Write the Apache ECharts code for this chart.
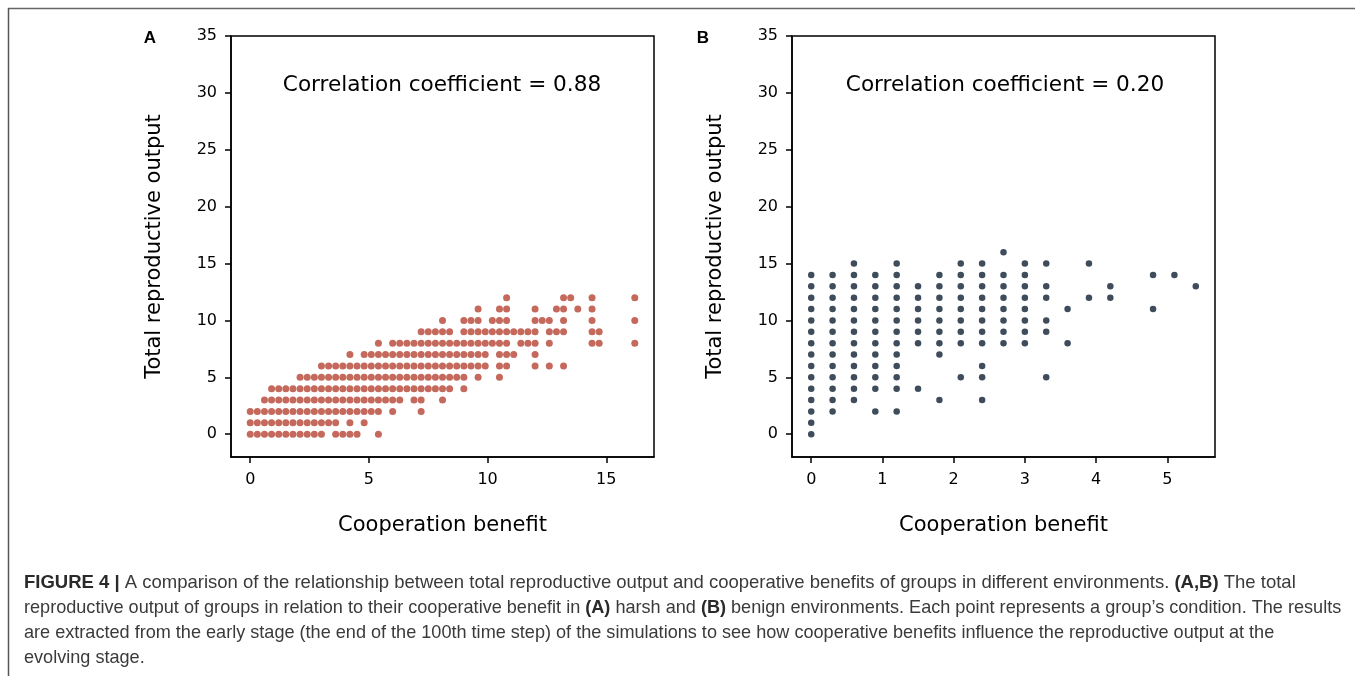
<!DOCTYPE html>
<html>
<head>
<meta charset="utf-8">
<script src="https://cdn.jsdelivr.net/npm/echarts@6/dist/echarts.min.js"></script>
<style>
html,body{margin:0;padding:0;background:#fff;}
#c{width:1355px;height:676px;}
</style>
</head>
<body>
<div id="c"></div>
<script>
// ---------- DATA ----------
// Panel A (harsh): y levels and the cooperation-benefit x values present at each level
const harshYLevels = [0,1,2,3,4,5,6,7,8,9,10,11,12];
const harshRows = [
  [0,0.3,0.6,0.9,1.2,1.5,1.8,2.1,2.4,2.7,3.0,3.6,3.9,4.2,4.5,5.4],
  [0,0.3,0.6,0.9,1.2,1.5,1.8,2.1,2.4,2.7,3.0,3.3,3.6,4.2,4.8],
  [0,0.3,0.6,0.9,1.2,1.5,1.8,2.1,2.4,2.7,3.0,3.3,3.6,3.9,4.2,4.5,4.8,5.1,5.4,6.0,7.2],
  [0.6,0.9,1.2,1.5,1.8,2.1,2.4,2.7,3.0,3.3,3.6,3.9,4.2,4.5,4.8,5.1,5.4,5.7,6.0,6.3,6.9,7.2,8.1],
  [0.9,1.2,1.5,1.8,2.1,2.4,2.7,3.0,3.3,3.6,3.9,4.2,4.5,4.8,5.1,5.4,5.7,6.0,6.3,6.6,6.9,7.2,7.5,7.8,8.1,8.4,9.0],
  [2.1,2.4,2.7,3.0,3.3,3.6,3.9,4.2,4.5,4.8,5.1,5.4,5.7,6.0,6.3,6.6,6.9,7.2,7.5,7.8,8.1,8.4,8.7,9.0,9.6,10.5],
  [3.0,3.3,3.6,3.9,4.2,4.5,4.8,5.1,5.4,5.7,6.0,6.3,6.6,6.9,7.2,7.5,7.8,8.1,8.4,8.7,9.0,9.3,9.6,9.9,10.5,10.8,12.0,12.6,13.2],
  [4.2,4.8,5.1,5.4,5.7,6.0,6.3,6.6,6.9,7.2,7.5,7.8,8.1,8.4,8.7,9.0,9.3,9.6,9.9,10.5,10.8,11.1,12.0],
  [5.4,6.0,6.3,6.6,6.9,7.2,7.5,7.8,8.1,8.4,8.7,9.0,9.3,9.6,9.9,10.2,10.5,10.8,11.4,11.7,12.0,12.6,14.4,14.7,16.2],
  [7.2,7.5,7.8,8.1,8.4,9.0,9.3,9.6,9.9,10.2,10.5,10.8,11.1,11.4,11.7,12.0,12.6,12.9,13.2,14.4,14.7],
  [8.1,9.0,9.3,9.6,10.2,10.5,10.8,12.0,12.3,12.6,13.2,14.4,16.2],
  [9.6,10.5,10.8,12.0,12.9,13.2,13.8,14.4],
  [10.8,13.2,13.5,14.4,16.2]
];
// Panel B (benign): x columns and the reproductive-output y values present in each column
const benignX = [0,0.3,0.6,0.9,1.2,1.5,1.8,2.1,2.4,2.7,3.0,3.3,3.6,3.9,4.2,4.8,5.1,5.4];
const benignCols = [
  [0,1,2,3,4,5,6,7,8,9,10,11,12,13,14],
  [2,3,4,5,6,7,8,9,10,11,12,13,14],
  [3,4,5,6,7,8,9,10,11,12,13,14,15],
  [2,4,5,6,7,8,9,10,11,12,13,14],
  [2,4,5,6,7,8,9,10,11,12,13,14,15],
  [4,8,9,10,11,12,13],
  [3,7,8,9,10,11,12,13,14],
  [5,8,9,10,11,12,13,14,15],
  [3,5,6,8,9,10,11,12,13,14,15],
  [8,9,10,11,12,13,14,16],
  [8,9,10,11,12,13,14,15],
  [5,9,10,12,13,15],
  [8,11],
  [12,15],
  [12,13],
  [11,14],
  [14],
  [13]
];
const xTicksA = [0,5,10,15];
const xTicksB = [0,1,2,3,4,5];
const yTicks = [0,5,10,15,20,25,30,35];
const corrA = '0.88';
const corrB = '0.20';

// ---------- BUILD ----------
const harshData = [];
harshRows.forEach((row, i) => row.forEach(x => harshData.push([x, harshYLevels[i]])));
const benignData = [];
benignCols.forEach((col, i) => col.forEach(y => benignData.push([benignX[i], y])));

const FONT = 'DejaVu Sans';
const axisLineStyle = {color:'#000', width:1.5};

function xAxisCfg(idx, min, max, ticks){
  return {
    type:'value', gridIndex:idx, min:min, max:max,
    axisLine:{show:true, onZero:false, lineStyle:axisLineStyle},
    axisTick:{show:true, length:6, inside:false, customValues:ticks, lineStyle:axisLineStyle},
    axisLabel:{show:true, customValues:ticks, fontSize:16, color:'#000', fontFamily:FONT, margin:15},
    splitLine:{show:false},
    name:'Cooperation benefit', nameLocation:'middle', nameGap:58, nameMoveOverlap:false,
    nameTextStyle:{fontSize:21, color:'#000', fontFamily:FONT}
  };
}
function yAxisCfg(idx){
  return {
    type:'value', gridIndex:idx, min:-2, max:35,
    axisLine:{show:true, onZero:false, lineStyle:axisLineStyle},
    axisTick:{show:true, length:6, inside:false, customValues:yTicks, lineStyle:axisLineStyle},
    axisLabel:{show:true, customValues:yTicks, fontSize:16, color:'#000', fontFamily:FONT, margin:14},
    splitLine:{show:false},
    name:'Total reproductive output', nameLocation:'middle', nameGap:66, nameMoveOverlap:false,
    nameTextStyle:{fontSize:21, color:'#000', fontFamily:FONT}
  };
}

const CAP_FS = 18.1;
const CAP_FS1 = 18.5;
const chart = echarts.init(document.getElementById('c'), null, {renderer:'canvas'});
chart.setOption({
  animation:false,
  backgroundColor:'#fff',
  grid:[
    {left:231, top:36, width:423, height:421, show:true, borderColor:'#000', borderWidth:1.5, backgroundColor:'transparent', containLabel:false, outerBoundsMode:'none'},
    {left:792, top:36, width:423, height:421, show:true, borderColor:'#000', borderWidth:1.5, backgroundColor:'transparent', containLabel:false, outerBoundsMode:'none'}
  ],
  xAxis:[ xAxisCfg(0, -0.81, 17.01, xTicksA), xAxisCfg(1, -0.27, 5.67, xTicksB) ],
  yAxis:[ yAxisCfg(0), yAxisCfg(1) ],
  series:[
    {type:'scatter', xAxisIndex:0, yAxisIndex:0, data:harshData, symbolSize:7,
     itemStyle:{color:'#c4695c', opacity:1}, emphasis:{disabled:true}, silent:true},
    {type:'scatter', xAxisIndex:1, yAxisIndex:1, data:benignData, symbolSize:6.5,
     itemStyle:{color:'#3e4c5b', opacity:1}, emphasis:{disabled:true}, silent:true}
  ],
  graphic:[
    {type:'line', shape:{x1:8, y1:8.5, x2:1355, y2:8.5}, style:{stroke:'#666', lineWidth:1.5}, silent:true},
    {type:'line', shape:{x1:8.5, y1:8, x2:8.5, y2:676}, style:{stroke:'#555', lineWidth:1.5}, silent:true},
    {type:'text', x:150, y:38, style:{text:'A', font:'bold 17px "Liberation Sans"', fill:'#000', textAlign:'center', textVerticalAlign:'middle'}},
    {type:'text', x:703, y:38, style:{text:'B', font:'bold 17px "Liberation Sans"', fill:'#000', textAlign:'center', textVerticalAlign:'middle'}},
    {type:'text', x:442, y:85, style:{text:'Correlation coefficient = ' + corrA, font:'21.6px "DejaVu Sans"', fill:'#000', textAlign:'center', textVerticalAlign:'middle'}},
    {type:'text', x:1005, y:85, style:{text:'Correlation coefficient = ' + corrB, font:'21.6px "DejaVu Sans"', fill:'#000', textAlign:'center', textVerticalAlign:'middle'}},
    {type:'text', x:24, y:583, style:{
      text:'{b|FIGURE 4 |} A comparison of the relationship between total reproductive output and cooperative benefits of groups in different environments. {b|(A,B)} The total',
      fontFamily:'Liberation Sans', fontSize:CAP_FS1, fill:'#3a3a3a', textVerticalAlign:'middle',
      rich:{b:{fontWeight:'bold', fontFamily:'Liberation Sans', fontSize:CAP_FS1, fill:'#2a2a2a'}}}},
    {type:'text', x:24, y:608, style:{
      text:'reproductive output of groups in relation to their cooperative benefit in {b|(A)} harsh and {b|(B)} benign environments. Each point represents a group\u2019s condition. The results',
      fontFamily:'Liberation Sans', fontSize:CAP_FS, fill:'#3a3a3a', textVerticalAlign:'middle',
      rich:{b:{fontWeight:'bold', fontFamily:'Liberation Sans', fontSize:CAP_FS, fill:'#2a2a2a'}}}},
    {type:'text', x:24, y:633, style:{
      text:'are extracted from the early stage (the end of the 100th time step) of the simulations to see how cooperative benefits influence the reproductive output at the',
      fontFamily:'Liberation Sans', fontSize:CAP_FS, fill:'#3a3a3a', textVerticalAlign:'middle'}},
    {type:'text', x:24, y:658, style:{
      text:'evolving stage.',
      fontFamily:'Liberation Sans', fontSize:CAP_FS, fill:'#3a3a3a', textVerticalAlign:'middle'}}
  ]
});
</script>
</body>
</html>
